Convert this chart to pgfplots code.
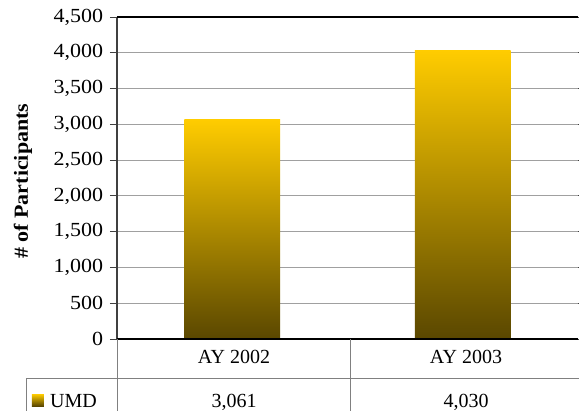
\documentclass[border=0pt]{standalone}
\usepackage{fontspec}
\setmainfont{Liberation Serif}
\usepackage{pgfplots}
\pgfplotsset{compat=1.18}
\definecolor{gold}{HTML}{FFCC00}
\definecolor{goldmid}{HTML}{B89300}
\definecolor{golddark}{HTML}{5A4700}
\definecolor{gridgray}{HTML}{A0A0A0}
\definecolor{tablegray}{HTML}{808080}
\definecolor{axisdark}{HTML}{404040}
\begin{document}
\fontsize{20bp}{24bp}\selectfont
\begin{tikzpicture}
\begin{axis}[
  scale only axis, width=461bp, height=322bp,
  xmin=-0.5, xmax=1.5, ymin=0, ymax=4500,
  ytick={0,500,...,4500},
  xtick=\empty,
  axis line style={draw=none},
  ymajorgrids, grid style={gridgray, line width=1bp},
  tick align=outside, major tick length=7bp,
  tick style={axisdark, line width=1bp},
  /pgf/number format/1000 sep={,},
  /pgf/number format/assume math mode=true,
  yticklabel style={font=\fontsize{20bp}{24bp}\selectfont, xscale=1.1, inner sep=2bp, xshift=-4bp},
  ylabel={\# of Participants},
  ylabel style={font=\fontsize{20bp}{24bp}\bfseries\selectfont, xscale=1.1},
  every axis y label/.append style={at={(axis description cs:-0.204,0.49)}, anchor=center},
  clip=false,
  bar width=0.416, bar shift=0pt,
]
\addplot[ybar, draw=none, top color=gold, middle color=goldmid, bottom color=golddark]
  coordinates {(0,3061)};
\addplot[ybar, draw=none, top color=gold, middle color=goldmid, bottom color=golddark]
  coordinates {(1,4030)};
\draw[axisdark, line width=1.5bp] (rel axis cs:0,0) -- (rel axis cs:0,1);
\draw[black, line width=1.2bp] (rel axis cs:0,1) -- (rel axis cs:1,1);
\draw[black, line width=1.2bp] (rel axis cs:0,0) -- (rel axis cs:1,0);
\coordinate (SW) at (rel axis cs:0,0);
\end{axis}
\pgfresetboundingbox
\begin{scope}[shift={(SW)}, x=1bp, y=1bp]
\path[use as bounding box] (-117,-72) rectangle (462,339);
\draw[tablegray, line width=1bp] (0,0) -- (0,-72);
\draw[tablegray, line width=1bp] (233,0) -- (233,-72);
\draw[tablegray, line width=1bp] (-90,-39) -- (462,-39);
\draw[tablegray, line width=1bp] (-90,-39) -- (-90,-72);
\node[anchor=base, inner sep=0] at (117,-24) {AY 2002};
\node[anchor=base, inner sep=0] at (349,-24) {AY 2003};
\node[anchor=base, inner sep=0] at (117,-68) {3,061};
\node[anchor=base, inner sep=0] at (349,-68) {4,030};
\node[anchor=base west, inner sep=0] at (-67,-68) {UMD};
\shade[top color=gold, bottom color=golddark] (-85,-55) rectangle (-73,-67);
\end{scope}
\end{tikzpicture}
\end{document}
